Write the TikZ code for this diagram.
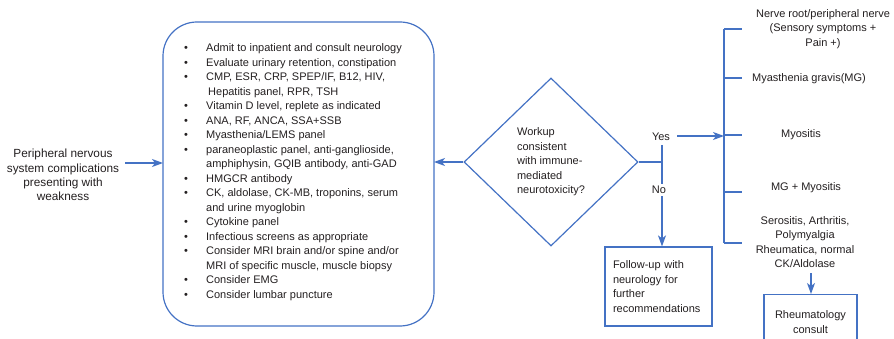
\documentclass[tikz,border=0pt]{standalone}
\usepackage{fontspec}
\setmainfont{Liberation Sans}
\usetikzlibrary{shapes.geometric,arrows.meta}
\definecolor{flowblue}{RGB}{68,114,196}
\definecolor{inktext}{RGB}{35,31,32}
\begin{document}
\begin{tikzpicture}[x=1pt,y=-1pt,
  every node/.style={text=inktext,font=\fontsize{11}{14.5}\selectfont},
  wire/.style={draw=flowblue,line width=1.2pt},
  flow/.style={wire,-{Stealth[length=11pt,width=8pt,inset=3pt]}},
  label/.style={align=center,inner sep=0pt},
  outbox/.style={draw=flowblue,line width=1.2pt,rectangle}]
\useasboundingbox (0,0) rectangle (894,339);

% entry text
\node[label,font=\fontsize{11.8}{14.3}\selectfont] (start) at (63,175)
  {Peripheral nervous\\system complications\\presenting with\\weakness};

% workup list
\draw[wire,rounded corners=34pt] (163,22) rectangle (434,326);
\node[anchor=base west,inner sep=0pt] (list) at (184,52) {%
  \renewcommand\arraystretch{1}%
  \begin{tabular}[t]{@{}p{22pt}@{}l@{}}
  \textbullet & Admit to inpatient and consult neurology\\
  \textbullet & Evaluate urinary retention, constipation\\
  \textbullet & CMP, ESR, CRP, SPEP/IF, B12, HIV,\\
              & \hspace{2pt}Hepatitis panel, RPR, TSH\\
  \textbullet & Vitamin D level, replete as indicated\\
  \textbullet & ANA, RF, ANCA, SSA+SSB\\
  \textbullet & Myasthenia/LEMS panel\\
  \textbullet & paraneoplastic panel, anti-ganglioside,\\
              & amphiphysin, GQIB antibody, anti-GAD\\
  \textbullet & HMGCR antibody\\
  \textbullet & CK, aldolase, CK-MB, troponins, serum\\
              & and urine myoglobin\\
  \textbullet & Cytokine panel\\
  \textbullet & Infectious screens as appropriate\\
  \textbullet & Consider MRI brain and/or spine and/or\\
              & MRI of specific muscle, muscle biopsy\\
  \textbullet & Consider EMG\\
  \textbullet & Consider lumbar puncture
  \end{tabular}};
\coordinate (listW) at (163,163);
\coordinate (listE) at (434,162);

% decision
\node[diamond,draw=flowblue,line width=1.2pt,minimum width=174pt,minimum height=168pt,
      inner sep=0pt,align=left] (ask) at (551,162)
  {Workup\\consistent\\with immune-\\mediated\\neurotoxicity?};

\coordinate (startE) at (125,163);
\draw[flow] (startE) -- (listW);
\draw[flow] (ask.west) -- (listE);

% branches
\coordinate (split) at (662,162);
\node[label] (yes) at (661,137) {Yes};
\coordinate (yesTop) at (662,145);
\coordinate (yesE) at (677,136);
\coordinate (bracketIn) at (724,136);
\draw[wire] (ask.east) -- (split);
\draw[wire] (yesTop) -- (split);
\draw[flow] (yesE) -- (bracketIn);

\node[outbox,text width=91pt,align=left,inner xsep=8pt,inner ysep=0pt,
      minimum height=79pt] (follow) at (658.5,286.5)
  {Follow-up with\\neurology for\\further\\recommendations};
\draw[flow] (split) -- (follow.north -| split);
\node[label,fill=white,inner ysep=2pt] (no) at (659,190) {No};

% outcome bracket
\coordinate (b1) at (724,29);
\coordinate (b2) at (724,78);
\coordinate (b3) at (724,135);
\coordinate (b4) at (724,192);
\coordinate (b5) at (724,243);
\draw[wire] (b1) -- (b5);
\foreach \b in {b1,b2,b3,b4,b5} \draw[wire] (\b) -- ++(18,0);

\node[label] (nerve) at (823,29) {Nerve root/peripheral nerve\\(Sensory symptoms +\\Pain +)};
\node[label] (mg) at (809,79) {Myasthenia gravis(MG)};
\node[label] (myo) at (801,135) {Myositis};
\node[label] (mgmyo) at (806,188) {MG + Myositis};
\node[label] (sero) at (805,242) {Serositis, Arthritis,\\Polymyalgia\\Rheumatica, normal\\CK/Aldolase};

\node[outbox,minimum width=93pt,minimum height=52pt,anchor=north,inner sep=0pt] (rheum) at (810.5,294) {};
\node[label] (rheumtext) at (810.5,322) {Rheumatology\\consult};
\coordinate (seroS) at (811,273);
\draw[flow] (seroS) -- (rheum.north -| seroS);
\end{tikzpicture}
\end{document}
